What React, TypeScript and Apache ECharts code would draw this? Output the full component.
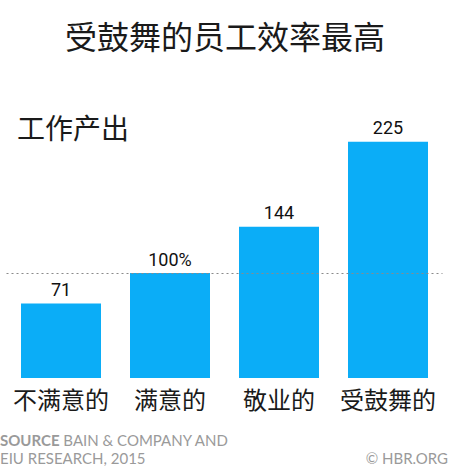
import React, { useEffect, useRef } from "react";
import * as echarts from "echarts";

// chart data
const categories = ["不满意的", "满意的", "敬业的", "受鼓舞的"];
const outputValues = [71, 100, 144, 225];
const valueLabels = ["71", "100%", "144", "225"];
const baselineValue = 100;

const titleText = "受鼓舞的员工效率最高";
const subtitleText = "工作产出";
const sourceLines = ["BAIN & COMPANY AND", "EIU RESEARCH, 2015"];
const creditText = "© HBR.ORG";

const CJK = '"Noto Sans CJK SC", "Noto Sans", sans-serif';
const LATIN = 'Roboto, "Noto Sans", sans-serif';
const SOURCE_FONT = 'Lato, "Noto Sans", sans-serif';

const App = () => {
  const chartRef = useRef<HTMLDivElement | null>(null);

  useEffect(() => {
    if (!chartRef.current) return;
    const chart = echarts.init(chartRef.current, null, { renderer: "svg" });

    const options = {
      animation: false,
      backgroundColor: "#ffffff",
      title: [
        {
          text: titleText,
          left: "center",
          top: 14,
          textStyle: { fontFamily: CJK, fontSize: 32, fontWeight: "normal", color: "#1a1a1a" },
        },
        {
          text: subtitleText,
          left: 12,
          top: 108,
          textStyle: { fontFamily: CJK, fontSize: 28, fontWeight: "normal", color: "#1a1a1a" },
        },
      ],
      grid: { left: 6.5, right: 7.5, top: 115.5, bottom: 91 },
      xAxis: {
        type: "category",
        data: categories,
        axisLine: { show: false },
        axisTick: { show: false },
        axisLabel: {
          interval: 0,
          margin: 8,
          fontFamily: CJK,
          fontSize: 24,
          color: "#1a1a1a",
        },
      },
      yAxis: {
        type: "value",
        min: 0,
        max: 250,
        show: false,
        splitLine: { show: false },
      },
      series: [
        {
          type: "bar",
          data: outputValues,
          barWidth: 80,
          itemStyle: { color: "#0BADF7" },
          label: {
            show: true,
            position: "top",
            distance: 5,
            fontFamily: LATIN,
            fontSize: 18,
            fontWeight: "normal",
            color: "#111111",
            formatter: (p: any) => valueLabels[p.dataIndex],
          },
          markLine: {
            silent: true,
            symbol: "none",
            label: { show: false },
            lineStyle: { color: "#8a8a8a", type: [2, 3], width: 1 },
            data: [{ yAxis: baselineValue }],
          },
        },
      ],
      graphic: [
        {
          type: "text",
          left: 0,
          top: 431,
          style: {
            text: "{b|SOURCE} " + sourceLines[0] + "\n" + sourceLines[1],
            fontFamily: SOURCE_FONT,
            fontSize: 15,
            lineHeight: 18,
            fill: "#9a9a9a",
            rich: {
              b: { fontFamily: SOURCE_FONT, fontSize: 15, fontWeight: "bold", fill: "#9a9a9a" },
            },
          },
        },
        {
          type: "text",
          right: 2,
          top: 450,
          style: {
            text: creditText,
            fontFamily: SOURCE_FONT,
            fontSize: 15,
            fill: "#9a9a9a",
          },
        },
      ],
    };

    chart.setOption(options);
    return () => {
      chart.dispose();
    };
  }, []);

  return (
    <div
      ref={chartRef}
      style={{ position: "fixed", left: 0, top: 0, width: "450px", height: "469px" }}
    ></div>
  );
};

export default App;
